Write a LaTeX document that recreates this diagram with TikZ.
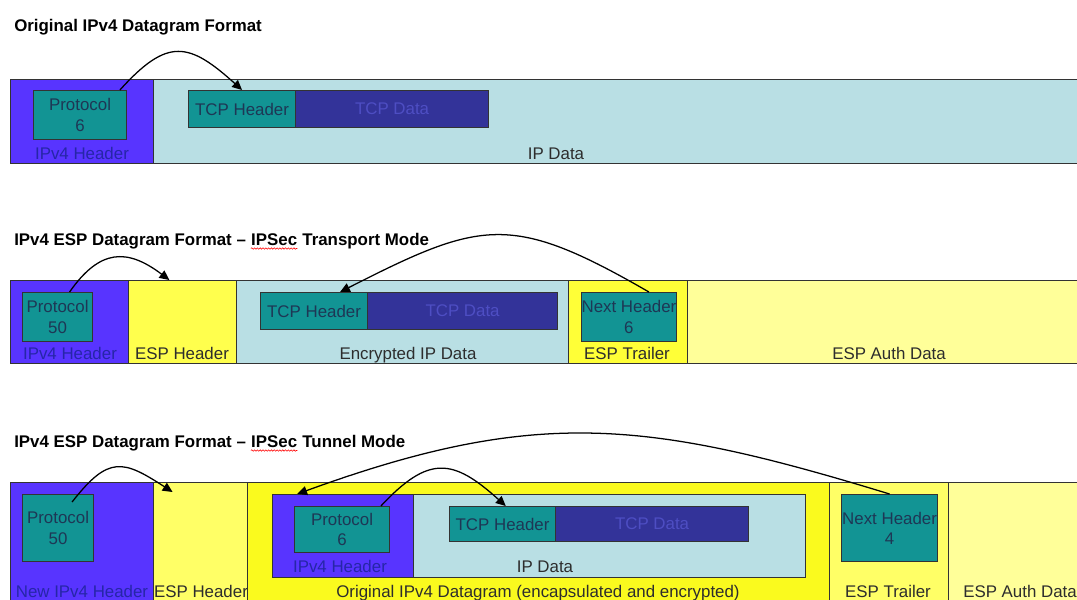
\documentclass[tikz,border=0pt]{standalone}
\usepackage{fontspec}
\setmainfont{Liberation Sans}
\usetikzlibrary{arrows.meta,decorations.pathmorphing}

\definecolor{hdrblue}{RGB}{88,52,255}
\definecolor{protteal}{RGB}{18,148,148}
\definecolor{tcpdata}{RGB}{51,51,153}
\definecolor{ipdata}{RGB}{185,223,228}
\definecolor{espyel}{RGB}{255,255,77}
\definecolor{trlyel}{RGB}{255,255,55}
\definecolor{esplight}{RGB}{255,255,102}
\definecolor{origyel}{RGB}{250,250,30}
\definecolor{authyel}{RGB}{255,255,153}
\definecolor{navytxt}{RGB}{30,55,85}
\definecolor{hdrtxt}{RGB}{38,38,168}
\definecolor{tcptxt}{RGB}{78,78,195}
\definecolor{graytxt}{RGB}{45,45,45}

\tikzset{
  fld/.style={draw=black!80, line width=0.8pt, inner sep=0pt, anchor=north west},
  sz/.style 2 args={minimum width=#1*0.025cm, minimum height=#2*0.025cm},
  lbl/.style={font=\fontsize{12}{14.4}\selectfont, inner sep=0pt},
  blbl/.style={lbl, anchor=base, text=graytxt},
  ttl/.style={font=\bfseries\fontsize{12}{14.4}\selectfont, anchor=base west, inner sep=0pt},
  sqg/.style={red, line width=0.4pt, decorate, decoration={snake, amplitude=0.5pt, segment length=2pt}},
  nxt/.style={-{Triangle[length=7pt,width=6.5pt]}, line width=0.9pt},
}

\begin{document}
\begin{tikzpicture}[x=0.025cm, y=-0.025cm]
\clip (0,0) rectangle (1077,599);

\node[ttl] (t1) at (14,31) {Original IPv4 Datagram Format};
\node[fld, fill=hdrblue, sz={143}{84}] (v4h1) at (10,79) {};
\node[fld, fill=ipdata, sz={940}{84}] (ipd1) at (153,79) {};
\node[fld, fill=protteal, sz={93}{49}, lbl, align=center, text=navytxt] (pr1) at (33,90) {Protocol\\6};
\node[fld, fill=protteal, sz={107}{37}, lbl, text=navytxt] (tcph1) at (188,90) {TCP Header};
\node[fld, fill=tcpdata, sz={193}{37}, lbl, text=tcptxt] (tcpd1) at (295,90) {TCP Data};
\node[blbl, text=hdrtxt] (v4l1) at (82,159) {IPv4 Header};
\node[blbl] (ipl1) at (556,159) {IP Data};
\draw[nxt] ([xshift=-0.18cm]pr1.north east) to[out=48,in=138,looseness=1.5] (tcph1.north);

\node[ttl] (t2a) at (14,245) {IPv4 ESP Datagram Format –\ \mbox{}};
\node[ttl] (t2b) at (t2a.base east) {IPSec};
\node[ttl] (t2c) at (t2b.base east) {\mbox{}\ Transport Mode};
\draw[sqg] ([yshift=-2.5pt]t2b.base west) -- ([yshift=-2.5pt]t2b.base east);
\node[fld, fill=hdrblue, sz={118}{83}] (v4h2) at (10,280) {};
\node[fld, fill=espyel, sz={108}{83}] (esph2) at (128,280) {};
\node[fld, fill=ipdata, sz={332}{83}] (eipd2) at (236,280) {};
\node[fld, fill=trlyel, sz={119}{83}] (estr2) at (568,280) {};
\node[fld, fill=authyel, sz={410}{83}] (auth2) at (687,280) {};
\node[fld, fill=protteal, sz={70}{49}, lbl, align=center, text=navytxt] (pr2) at (22,292) {Protocol\\50};
\node[fld, fill=protteal, sz={107}{37}, lbl, text=navytxt] (tcph2) at (260,292) {TCP Header};
\node[fld, fill=tcpdata, sz={190}{37}, lbl, text=tcptxt] (tcpd2) at (367,292) {TCP Data};
\node[fld, fill=protteal, sz={94}{49}, lbl, align=center, text=navytxt] (nh2) at (581,292) {Next Header\\6};
\node[blbl, text=hdrtxt] (v4l2) at (70,359) {IPv4 Header};
\node[blbl] (espl2) at (182,359) {ESP Header};
\node[blbl] (eipl2) at (408,359) {Encrypted IP Data};
\node[blbl] (trl2) at (627,359) {ESP Trailer};
\node[blbl] (authl2) at (889,359) {ESP Auth Data};
\draw[nxt] ([xshift=0.3cm]pr2.north) to[out=55,in=143,looseness=1.35] ([xshift=-0.33cm]esph2.north);
\draw[nxt] ([xshift=0.5cm]nh2.north) to[out=150,in=27,looseness=1.32] ([xshift=0.65cm]tcph2.north);

\node[ttl] (t3a) at (14,447) {IPv4 ESP Datagram Format –\ \mbox{}};
\node[ttl] (t3b) at (t3a.base east) {IPSec};
\node[ttl] (t3c) at (t3b.base east) {\mbox{}\ Tunnel Mode};
\draw[sqg] ([yshift=-2.5pt]t3b.base west) -- ([yshift=-2.5pt]t3b.base east);
\node[fld, fill=hdrblue, sz={143}{130}] (v4h3) at (10,482) {};
\node[fld, fill=esplight, sz={94}{130}] (esph3) at (153,482) {};
\node[fld, fill=origyel, sz={582}{130}] (orig3) at (247,482) {};
\node[fld, fill=esplight, sz={119}{130}] (estr3) at (829,482) {};
\node[fld, fill=authyel, sz={140}{130}] (auth3) at (948,482) {};
\node[fld, fill=protteal, sz={71}{67}, lbl, align=center, text=navytxt] (pr3) at (22,494) {Protocol\\50};
\node[fld, fill=hdrblue, sz={141}{83}] (iv4h3) at (272,494) {};
\node[fld, fill=ipdata, sz={392}{83}] (iipd3) at (413,494) {};
\node[fld, fill=protteal, sz={95}{46}, lbl, align=center, text=navytxt] (pr3b) at (294,506) {Protocol\\6};
\node[fld, fill=protteal, sz={106}{35}, lbl, text=navytxt] (tcph3) at (449,506) {TCP Header};
\node[fld, fill=tcpdata, sz={193}{35}, lbl, text=tcptxt] (tcpd3) at (555,506) {TCP Data};
\node[fld, fill=protteal, sz={96}{67}, lbl, align=center, text=navytxt] (nh3) at (841,494) {Next Header\\4};
\node[blbl, text=hdrtxt] (iv4l3) at (340,572) {IPv4 Header};
\node[blbl] (iipl3) at (545,572) {IP Data};
\node[blbl, text=hdrtxt] (v4l3) at (82,597) {New IPv4 Header};
\node[blbl] (espl3) at (201,597) {ESP Header};
\node[blbl] (origl3) at (538,597) {Original IPv4 Datagram (encapsulated and encrypted)};
\node[blbl] (trl3) at (888,597) {ESP Trailer};
\node[blbl] (authl3) at (1020,597) {ESP Auth Data};
\draw[nxt] ([xshift=0.35cm,yshift=-0.2cm]pr3.north) to[out=52,in=147,looseness=1.5] ([xshift=-0.7cm,yshift=-0.25cm]esph3.north);
\draw[nxt] ([xshift=-0.23cm]pr3b.north east) to[out=47,in=138,looseness=1.45] ([xshift=0.08cm]tcph3.north);
\draw[nxt] (nh3.north) to[out=163,in=20,looseness=1.1] ([xshift=0.63cm]iv4h3.north west);
\end{tikzpicture}
\end{document}
